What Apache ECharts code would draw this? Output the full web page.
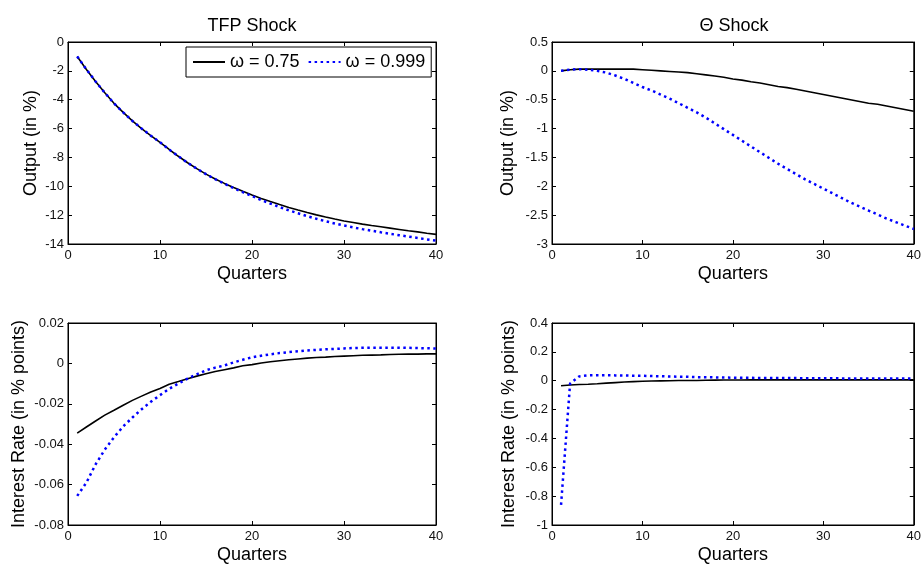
<!DOCTYPE html>
<html><head><meta charset="utf-8">
<script src="https://cdn.jsdelivr.net/npm/echarts@6/dist/echarts.min.js"></script>
<style>html,body{margin:0;padding:0;background:#fff}#c{width:924px;height:565px}</style>
</head><body><div id="c"></div>
<script>
// ---------- data ----------
const quarters = [1,2,3,4,5,6,7,8,9,10,11,12,13,14,15,16,17,18,19,20,21,22,23,24,25,26,27,28,29,30,31,32,33,34,35,36,37,38,39,40];
const seriesNames = ['ω = 0.75', 'ω = 0.999'];
const panelTitles = ['TFP Shock', 'Θ Shock'];
const xLabel = 'Quarters';
const yLabels = ['Output (in %)', 'Output (in %)', 'Interest Rate (in % points)', 'Interest Rate (in % points)'];
const xRange = [0, 40, 10];
const tfpOutRange = [-14, 0, 2];
const thetaOutRange = [-3, 0.5, 0.5];
const tfpRateRange = [-0.08, 0.02, 0.02];
const thetaRateRange = [-1, 0.4, 0.2];

const tfpOutput075 = [-1.00,-1.90,-2.74,-3.52,-4.25,-4.88,-5.47,-6.00,-6.49,-6.95,-7.45,-7.92,-8.37,-8.78,-9.16,-9.50,-9.80,-10.08,-10.35,-10.60,-10.84,-11.06,-11.27,-11.47,-11.65,-11.82,-11.98,-12.13,-12.27,-12.40,-12.51,-12.62,-12.72,-12.81,-12.90,-12.99,-13.08,-13.16,-13.25,-13.33];
const tfpOutput0999 = [-1.00,-1.90,-2.74,-3.52,-4.25,-4.88,-5.47,-6.00,-6.49,-6.95,-7.45,-7.92,-8.37,-8.78,-9.16,-9.51,-9.82,-10.12,-10.41,-10.68,-10.95,-11.20,-11.44,-11.67,-11.87,-12.07,-12.25,-12.42,-12.58,-12.72,-12.85,-12.97,-13.08,-13.19,-13.29,-13.39,-13.49,-13.58,-13.68,-13.77];
const thetaOutput075 = [0.00,0.02,0.03,0.03,0.03,0.03,0.03,0.03,0.03,0.02,0.01,0.00,-0.01,-0.02,-0.03,-0.05,-0.07,-0.09,-0.11,-0.14,-0.16,-0.19,-0.21,-0.24,-0.27,-0.29,-0.32,-0.35,-0.38,-0.41,-0.44,-0.47,-0.50,-0.53,-0.56,-0.58,-0.61,-0.64,-0.67,-0.70];
const thetaOutput0999 = [0.00,0.02,0.03,0.02,0.00,-0.03,-0.08,-0.14,-0.21,-0.28,-0.34,-0.41,-0.48,-0.56,-0.64,-0.72,-0.81,-0.91,-1.01,-1.11,-1.21,-1.31,-1.41,-1.51,-1.61,-1.70,-1.79,-1.88,-1.96,-2.04,-2.12,-2.20,-2.28,-2.35,-2.42,-2.49,-2.56,-2.62,-2.68,-2.74];
const tfpRate075 = [-0.0345,-0.0315,-0.0285,-0.0256,-0.0232,-0.0207,-0.0183,-0.0162,-0.0142,-0.0124,-0.0103,-0.0090,-0.0076,-0.0063,-0.0051,-0.0040,-0.0031,-0.0022,-0.0012,-0.0006,0.0002,0.0008,0.0013,0.0018,0.0022,0.0026,0.0029,0.0031,0.0034,0.0036,0.0038,0.0040,0.0041,0.0042,0.0044,0.0045,0.0046,0.0046,0.0047,0.0047];
const tfpRate0999 = [-0.0656,-0.0590,-0.0500,-0.0427,-0.0366,-0.0312,-0.0268,-0.0227,-0.0190,-0.0157,-0.0126,-0.0100,-0.0075,-0.0054,-0.0034,-0.0021,-0.0010,0.0005,0.0018,0.0030,0.0038,0.0045,0.0051,0.0056,0.0060,0.0064,0.0067,0.0070,0.0072,0.0074,0.0076,0.0077,0.0078,0.0078,0.0078,0.0078,0.0077,0.0076,0.0075,0.0074];
const thetaRate075 = [-0.035,-0.030,-0.026,-0.024,-0.021,-0.017,-0.013,-0.009,-0.006,-0.004,-0.002,-0.001,0.000,0.001,0.002,0.002,0.003,0.004,0.005,0.005,0.005,0.006,0.006,0.006,0.006,0.006,0.006,0.006,0.006,0.006,0.006,0.006,0.006,0.006,0.006,0.006,0.006,0.006,0.006,0.006];
const thetaRate0999 = [-0.86,-0.02,0.030,0.037,0.038,0.038,0.037,0.036,0.035,0.034,0.032,0.031,0.029,0.028,0.027,0.025,0.024,0.023,0.022,0.021,0.020,0.020,0.019,0.019,0.018,0.018,0.018,0.017,0.017,0.017,0.017,0.016,0.016,0.016,0.016,0.016,0.015,0.015,0.015,0.015];

// ---------- chart ----------
const FONT = '"Liberation Sans", Arial, Helvetica, sans-serif';
const chart = echarts.init(document.getElementById('c'), null, {renderer: 'canvas'});
const grids = [
  {left: 68, top: 42, width: 368, height: 202},
  {left: 552, top: 42, width: 365, height: 202},
  {left: 68, top: 323, width: 368, height: 205},
  {left: 552, top: 323, width: 365, height: 205}
];
const yRanges = [tfpOutRange, thetaOutRange, tfpRateRange, thetaRateRange];
const yNameGaps = [28, 35, 40, 34];
const panelData = [
  [tfpOutput075, tfpOutput0999],
  [thetaOutput075, thetaOutput0999],
  [tfpRate075, tfpRate0999],
  [thetaRate075, thetaRate0999]
];
const fmt = v => String(Math.round(v * 1000) / 1000);

const xAxes = [], yAxes = [], series = [];
grids.forEach((g, i) => {
  const base = {
    gridIndex: i, type: 'value', min: xRange[0], max: xRange[1], interval: xRange[2],
    splitLine: {show: false},
    axisLine: {show: true, onZero: false, lineStyle: {color: '#000', width: 1}},
    axisTick: {show: true, inside: true, length: 4, lineStyle: {color: '#000'}}
  };
  xAxes.push(Object.assign({}, base, {
    position: 'bottom',
    axisLabel: {show: true, margin: 5, color: '#111', fontSize: 13, fontFamily: FONT},
    name: xLabel, nameLocation: 'middle', nameGap: 21,
    nameTextStyle: {fontSize: 18, color: '#000', fontFamily: FONT}
  }));
  xAxes.push(Object.assign({}, base, {position: 'top', axisLabel: {show: false}}));
  const r = yRanges[i];
  const ybase = {
    gridIndex: i, type: 'value', min: r[0], max: r[1], interval: r[2],
    splitLine: {show: false},
    axisLine: {show: true, onZero: false, lineStyle: {color: '#000', width: 1}},
    axisTick: {show: true, inside: true, length: 4, lineStyle: {color: '#000'}}
  };
  yAxes.push(Object.assign({}, ybase, {
    position: 'left',
    axisLabel: {show: true, margin: 4, color: '#111', fontSize: 13, fontFamily: FONT, formatter: fmt},
    name: yLabels[i], nameLocation: 'middle', nameGap: yNameGaps[i], nameRotate: 90,
    nameTextStyle: {fontSize: 18, color: '#000', fontFamily: FONT}
  }));
  yAxes.push(Object.assign({}, ybase, {position: 'right', axisLabel: {show: false}}));
  const [a, b] = panelData[i];
  series.push({
    name: seriesNames[0], type: 'line', xAxisIndex: 2 * i, yAxisIndex: 2 * i,
    data: quarters.map((q, k) => [q, a[k]]), symbol: 'none', smooth: false,
    lineStyle: {color: '#000', width: 1.6}, itemStyle: {color: '#000'}, z: 2
  });
  series.push({
    name: seriesNames[1], type: 'line', xAxisIndex: 2 * i, yAxisIndex: 2 * i,
    data: quarters.map((q, k) => [q, b[k]]), symbol: 'none', smooth: false,
    lineStyle: {color: '#0000ff', width: 2.5, type: [2.5, 3.5], cap: 'butt'}, itemStyle: {color: '#0000ff'}, z: 3
  });
});

chart.setOption({
  animation: false,
  backgroundColor: '#fff',
  grid: grids.map(g => Object.assign({show: true, borderColor: '#000', borderWidth: 1, backgroundColor: 'transparent', containLabel: false}, g)),
  title: [
    {text: panelTitles[0], left: 247, top: 12, textAlign: 'center', textStyle: {fontSize: 18, fontWeight: 'normal', color: '#000', fontFamily: FONT}},
    {text: panelTitles[1], left: 729, top: 12, textAlign: 'center', textStyle: {fontSize: 18, fontWeight: 'normal', color: '#000', fontFamily: FONT}}
  ],
  legend: {
    data: seriesNames, left: 186, top: 47, orient: 'horizontal',
    backgroundColor: '#fff', borderColor: '#000', borderWidth: 1, borderRadius: 0,
    padding: [4, 6, 4, 6], itemGap: 8, itemWidth: 32, itemHeight: 14,
    itemStyle: {color: 'rgba(0,0,0,0)', borderColor: 'rgba(0,0,0,0)', borderWidth: 0, opacity: 0},
    textStyle: {fontSize: 18, color: '#000', fontFamily: FONT, lineHeight: 22},
    selectedMode: false
  },
  xAxis: xAxes,
  yAxis: yAxes,
  series: series
});
</script></body></html>
